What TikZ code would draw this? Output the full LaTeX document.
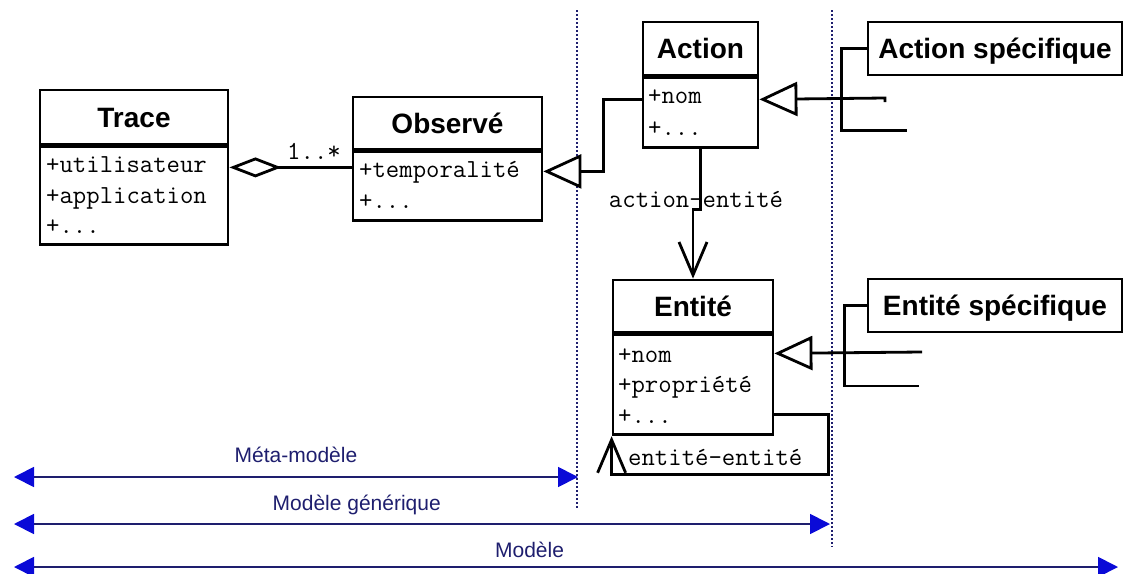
\documentclass[tikz,border=0pt]{standalone}
\usepackage{fontspec}
\setsansfont{Liberation Sans}
\usepackage{tikz}
\usetikzlibrary{arrows.meta}
\definecolor{navy}{RGB}{30,30,110}
\definecolor{tipblue}{RGB}{10,10,215}

\begin{document}
\begin{tikzpicture}[x=1pt,y=-1pt,
		cls/.style={draw,line width=2.8pt,inner sep=0pt},
		ctitle/.style={cls,text height=20pt,text depth=0pt,font=\sffamily\bfseries\fontsize{28}{28}\selectfont},
		attr/.style={anchor=base west,inner sep=0pt,font=\ttfamily\fontsize{26}{26}\selectfont},
		lnk/.style={line width=2.8pt},
		gen/.style={lnk,-{Triangle[open,fill=white,length=38pt,width=34pt]}},
		nav/.style={lnk,-{Straight Barb[length=33pt,width=28pt]}},
		sep/.style={navy,line width=1.6pt,dash pattern=on 2pt off 2pt},
		span/.style={navy,line width=1.8pt,{Triangle[tipblue,length=20pt,width=20pt]}-{Triangle[tipblue,length=20pt,width=20pt]}},
		spanlbl/.style={navy,anchor=base,inner sep=0pt,font=\sffamily\fontsize{21}{21}\selectfont}]
			%%Location
			\useasboundingbox (0,0) rectangle (1126,573);
			%%Separators
			\coordinate (sepMt) at (577,10);
			\coordinate (sepMb) at (577,508);
			\coordinate (sepGt) at (832,10);
			\coordinate (sepGb) at (832,547);
			\draw[sep] (sepMt) -- (sepMb);
			\draw[sep] (sepGt) -- (sepGb);
			%%Classes
			\node[ctitle,minimum width=188,minimum height=54] (traceT) at (134,117) {Trace};
			\node[cls,minimum width=188,minimum height=98,anchor=north] (traceA) at (traceT.south) {};
			\node[ctitle,minimum width=189,minimum height=52] (obsT) at (447.5,123) {Observé};
			\node[cls,minimum width=189,minimum height=69,anchor=north] (obsA) at (obsT.south) {};
			\node[ctitle,minimum width=115,minimum height=53] (actT) at (700.5,48.5) {Action};
			\node[cls,minimum width=115,minimum height=70,anchor=north] (actA) at (actT.south) {};
			\node[ctitle,minimum width=160,minimum height=52] (entT) at (693,306) {Entité};
			\node[cls,minimum width=160,minimum height=100,anchor=north] (entA) at (entT.south) {};
			\node[ctitle,minimum width=254,minimum height=53] (actSp) at (995,48.5) {Action spécifique};
			\node[ctitle,minimum width=254,minimum height=53] (entSp) at (995,305.5) {Entité spécifique};
			%%Attributes
			\node[attr] (traceA1) at (46,172) {+utilisateur};
			\node[attr] (traceA2) at (46,203) {+application};
			\node[attr] (traceA3) at (46,233) {+...};
			\node[attr] (obsA1) at (359,177) {+temporalité};
			\node[attr] (obsA2) at (359,208) {+...};
			\node[attr] (actA1) at (648,103) {+nom};
			\node[attr] (actA2) at (648,135) {+...};
			\node[attr] (entA1) at (618,362) {+nom};
			\node[attr] (entA2) at (618,392) {+propriété};
			\node[attr] (entA3) at (618,423) {+...};
			%%Aggregation
			\coordinate (aggT) at ([yshift=-22pt]traceA.north east);
			\coordinate (aggO) at ([yshift=-17pt]obsA.north west);
			\draw[lnk,-{Diamond[open,fill=white,length=52pt,width=20pt]}] (aggO) -- (aggT);
			\node[attr,anchor=base] (mult) at (314,159) {1..*};
			%%Generalisations
			\coordinate (genA) at ([yshift=-23pt]actA.north west);
			\coordinate (genO) at ([yshift=-21pt]obsA.north east);
			\draw[gen] (genA) -| ([xshift=60pt]genO) -- (genO);
			\coordinate (genAs) at (885,98);
			\draw[gen] ([yshift=-4pt]genAs) -- (genAs) -- ([yshift=-23pt]actA.north east);
			\draw[lnk] (actSp.west) -- ++(-25,0) -- ++(0,82) -- ++(65,0);
			\coordinate (genEs) at (922,352);
			\draw[gen] (genEs) -- ([yshift=-20pt]entA.north east);
			\draw[lnk] (entSp.west) -- ++(-22,0) -- ++(0,80.5) -- ++(74,0);
			%%Associations
			\draw[nav] (actA.south) -- ++(0,60) -| (entT.north);
			\node[attr,anchor=base] (aeLbl) at (696,207) {action-entité};
			\draw[nav] ([yshift=-81pt]entA.north east) -| ([xshift=54pt,yshift=-38pt]entA.south east) -| (entA.south west);
			\node[attr] (eeLbl) at (628,465) {entité-entité};
			%%Spans
			\coordinate (spL1) at (14,477);
			\coordinate (spR1) at (578,477);
			\coordinate (spL2) at (14,524);
			\coordinate (spR2) at (830,524);
			\coordinate (spL3) at (14,567);
			\coordinate (spR3) at (1118,567);
			\draw[span] (spL1) -- (spR1) node[spanlbl,pos=0.5,yshift=15pt] (metaLbl) {Méta-modèle};
			\draw[span] (spL2) -- (spR2) node[spanlbl,pos=0.42,yshift=14pt] (genLbl) {Modèle générique};
			\draw[span] (spL3) -- (spR3) node[spanlbl,pos=0.467,yshift=10pt] (modLbl) {Modèle};
\end{tikzpicture}
\end{document}
